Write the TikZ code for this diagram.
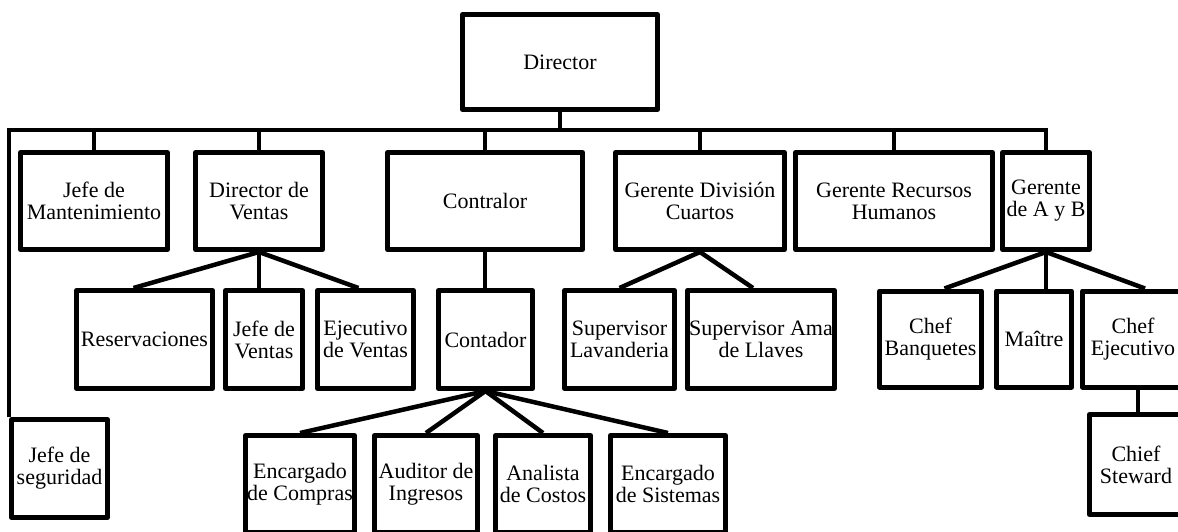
\documentclass[tikz,border=0pt]{standalone}
\usepackage{fontspec}
\setmainfont{Liberation Serif}
\usetikzlibrary{calc}
\begin{document}
\begin{tikzpicture}[x=1pt,y=-1pt,
  box/.style={draw=black, line width=5pt, line join=round, fill=white,
    inner sep=0pt, align=center, font=\fontsize{22}{22}\selectfont},
  conn/.style={line width=4.5pt, line cap=butt, line join=miter}]
\clip (0,0) rectangle (1178,531);
\fill[white] (0,0) rectangle (1178,531);

% top
\node[box, minimum width=195pt, minimum height=95pt] (dir) at (560,62) {Director};

% first level
\node[box, minimum width=147pt, minimum height=97pt] (jm)  at (94,201)   {Jefe de\\Mantenimiento};
\node[box, minimum width=127pt, minimum height=97pt] (dv)  at (259,201)  {Director de\\Ventas};
\node[box, minimum width=195pt, minimum height=97pt] (con) at (485,201)  {Contralor};
\node[box, minimum width=169pt, minimum height=97pt] (gdc) at (700,201)  {Gerente División\\Cuartos};
\node[box, minimum width=197pt, minimum height=97pt] (grh) at (894,201)  {Gerente Recursos\\Humanos};
\node[box, minimum width=87pt,  minimum height=97pt] (gab) at (1046,201) {Gerente\\de A y B};
\node[box, minimum width=96pt,  minimum height=98pt] (js)  at (59.5,468.5) {Jefe de\\seguridad};

% second level
\node[box, minimum width=136pt, minimum height=98pt] (res) at (144.5,339.5) {Reservaciones};
\node[box, minimum width=77pt,  minimum height=98pt] (jv)  at (264,339.5)   {Jefe de\\Ventas};
\node[box, minimum width=96pt,  minimum height=98pt] (ev)  at (365.5,339.5) {Ejecutivo\\de Ventas};
\node[box, minimum width=94pt,  minimum height=98pt] (ctd) at (485.5,339.5) {Contador};
\node[box, minimum width=110pt, minimum height=98pt] (sl)  at (619.5,339.5) {Supervisor\\Lavanderia};
\node[box, minimum width=147pt, minimum height=98pt] (sa)  at (761,339.5)   {Supervisor Ama\\de Llaves};
\node[box, minimum width=102pt, minimum height=96pt] (cb)  at (930.5,339)   {Chef\\Banquetes};
\node[box, minimum width=75pt,  minimum height=96pt] (ma)  at (1034,339)    {Maître};
\node[box, minimum width=101pt, minimum height=96pt] (ce)  at (1133,339)    {Chef\\Ejecutivo};

% third level
\node[box, minimum width=109pt, minimum height=97pt] (ec) at (300,484) {Encargado\\de Compras};
\node[box, minimum width=103pt, minimum height=97pt] (ai) at (426,484) {Auditor de\\Ingresos};
\node[box, minimum width=95pt,  minimum height=97pt] (ac) at (543,484) {Analista\\de Costos};
\node[box, minimum width=115pt, minimum height=97pt] (es) at (668,484) {Encargado\\de Sistemas};
\node[box, minimum width=93pt,  minimum height=100pt] (cs) at (1136,464.5) {Chief\\Steward};

% main bus
\coordinate (bus) at (560,130);
\draw[conn] (js.north west) |- (bus) -| (gab.north);
\draw[conn] (dir.south) -- (dir.south |- bus);
\foreach \n in {jm,dv,con,gdc,grh}
  \draw[conn] (\n.north) -- (\n.north |- bus);

% sales
\draw[conn] (dv.south) -- ([xshift=-11pt]res.north);
\draw[conn] (dv.south) -- (dv.south |- jv.north);
\draw[conn] (dv.south) -- ([xshift=-7pt]ev.north);

% accounting
\draw[conn] (con.south) -- (con.south |- ctd.north);
\foreach \n in {ec,ai,ac,es}
  \draw[conn] (ctd.south) -- (\n.north);

% rooms division
\draw[conn] (gdc.south) -- (sl.north);
\draw[conn] (gdc.south) -- ([xshift=-8pt]sa.north);

% food and beverage
\draw[conn] (gab.south) -- ([xshift=14pt]cb.north);
\draw[conn] (gab.south) -- (gab.south |- ma.north);
\draw[conn] (gab.south) -- ([xshift=12pt]ce.north);
\draw[conn] ([xshift=5pt]ce.south) -- ([xshift=5pt]ce.south |- cs.north);
\end{tikzpicture}
\end{document}
